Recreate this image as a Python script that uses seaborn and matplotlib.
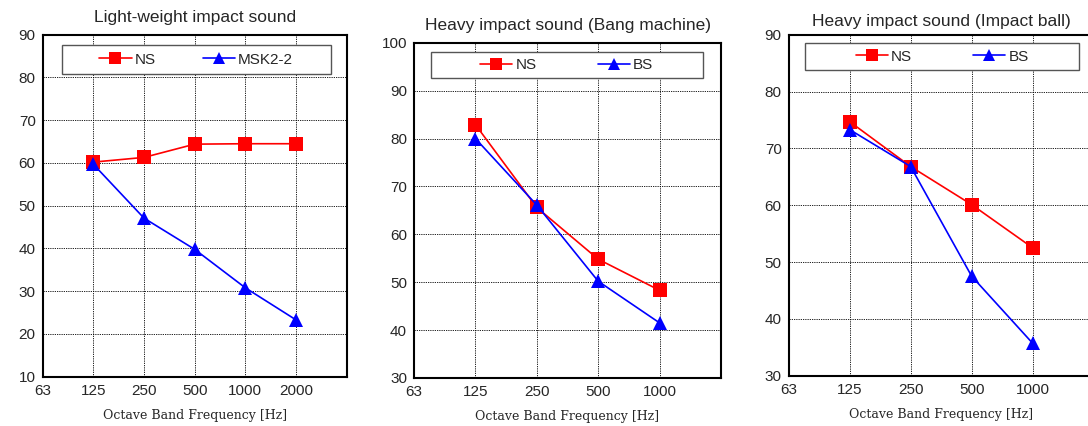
import numpy as np
import pandas as pd
import matplotlib
matplotlib.use('Agg')
import matplotlib.pyplot as plt
import seaborn as sns
from matplotlib.patches import Rectangle
from matplotlib.lines import Line2D

sns.set_style('white')
plt.rcParams['font.family'] = ['Liberation Sans', 'DejaVu Sans']

# octave band tick labels
ticks_light = ['63', '125', '250', '500', '1000', '2000']
ticks_heavy = ['63', '125', '250', '500', '1000']

# bands with measured values
freq_light = ['125', '250', '500', '1000', '2000']
freq_heavy = ['125', '250', '500', '1000']

# Light-weight impact sound
light_ns = [60.2, 61.3, 64.4, 64.5, 64.5]
light_msk = [59.7, 47.1, 39.8, 30.8, 23.3]

# Heavy impact sound (Bang machine)
bang_ns = [82.9, 65.6, 54.8, 48.3]
bang_bs = [80.0, 66.1, 50.2, 41.5]

# Heavy impact sound (Impact ball)
ball_ns = [74.7, 66.8, 60.1, 52.5]
ball_bs = [73.3, 66.8, 47.5, 35.7]


def make_df(freqs, ticks, ns, other_name, other):
    rows = []
    for f, v in zip(freqs, ns):
        rows.append({'pos': ticks.index(f), 'level': v, 'series': 'NS'})
    for f, v in zip(freqs, other):
        rows.append({'pos': ticks.index(f), 'level': v, 'series': other_name})
    return pd.DataFrame(rows)


def draw(ax, df, ticks, other, ylim, title, tpad, box, colsp):
    sns.lineplot(data=df, x='pos', y='level', hue='series', style='series',
                 markers={'NS': 's', other: '^'}, dashes=False,
                 palette={'NS': 'red', other: 'blue'}, markersize=10,
                 markeredgewidth=0, linewidth=1.2, ax=ax, legend=False, zorder=4)
    ax.set_xlim(0, len(ticks))
    ax.set_xticks(range(len(ticks)))
    ax.set_xticklabels(ticks)
    ax.set_ylim(*ylim)
    ax.set_yticks(np.arange(ylim[0], ylim[1] + 1, 10))
    ax.set_axisbelow(True)
    ax.grid(True, color='black', linestyle=(0, (1.5, 1.2)), linewidth=0.6)
    ax.tick_params(length=0, pad=5, labelsize=11)
    for s in ax.spines.values():
        s.set_color('black')
        s.set_linewidth(1.5)
    ax.set_title(title, fontsize=12.5, pad=tpad)
    ax.set_xlabel('Octave Band Frequency [Hz]', family='DejaVu Serif', fontsize=9, labelpad=8)
    ax.set_ylabel('')

    # legend box
    x0, y0, x1, y1 = box
    ax.add_patch(Rectangle((x0, y0), x1 - x0, y1 - y0, transform=ax.transAxes,
                           facecolor='white', edgecolor='#555555', lw=1, zorder=3))
    handles = [Line2D([], [], color='red', marker='s', markersize=8, lw=1.2, markeredgewidth=0),
               Line2D([], [], color='blue', marker='^', markersize=8, lw=1.2, markeredgewidth=0)]
    leg = ax.legend(handles, ['NS', other], loc='center',
                    bbox_to_anchor=((x0 + x1) / 2, (y0 + y1) / 2), ncol=2,
                    frameon=False, handlelength=2.1, handletextpad=0.2,
                    columnspacing=colsp, fontsize=11, borderaxespad=0)
    leg.set_zorder(5)


fig = plt.figure(figsize=(10.88, 4.26), dpi=100)
ax1 = fig.add_axes([0.0392, 0.1157, 0.2794, 0.8028])
ax2 = fig.add_axes([0.3805, 0.1127, 0.2822, 0.7870])
ax3 = fig.add_axes([0.7249, 0.1181, 0.2803, 0.8004])

draw(ax1, make_df(freq_light, ticks_light, light_ns, 'MSK2-2', light_msk), ticks_light,
     'MSK2-2', (10, 90), 'Light-weight impact sound', 9, (0.064, 0.885, 0.947, 0.970), 3.1)
draw(ax2, make_df(freq_heavy, ticks_heavy, bang_ns, 'BS', bang_bs), ticks_heavy,
     'BS', (30, 100), 'Heavy impact sound (Bang machine)', 9, (0.055, 0.895, 0.940, 0.972), 4.0)
draw(ax3, make_df(freq_heavy, ticks_heavy, ball_ns, 'BS', ball_bs), ticks_heavy,
     'BS', (30, 90), 'Heavy impact sound (Impact ball)', 6, (0.055, 0.896, 0.952, 0.975), 4.0)

fig.savefig('out.png', dpi=100)
